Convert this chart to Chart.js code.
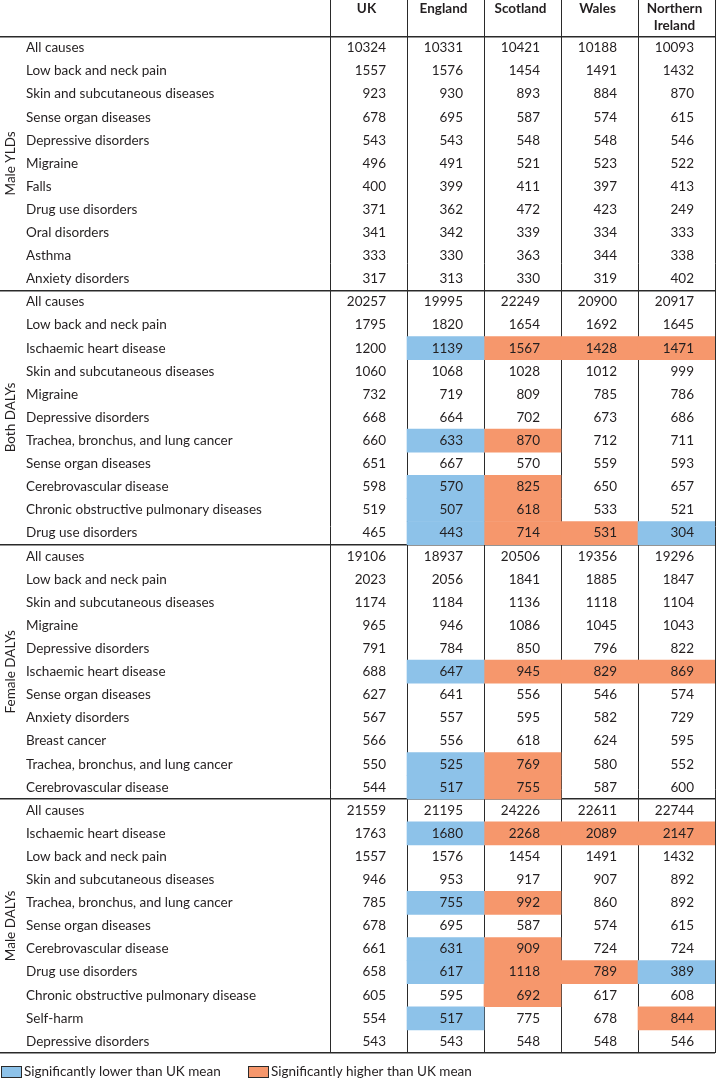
<!DOCTYPE html>
<html>
<head>
<meta charset="utf-8">
<script src="https://cdn.jsdelivr.net/npm/chart.js@4.4.1/dist/chart.umd.min.js"></script>
<style>
  body { margin: 0; background: #fff; }
  #caja { width: 716px; height: 1080px; position: relative; }
</style>
</head>
<body>
<div id="caja"><canvas id="tabla"></canvas></div>
<script>
// datos de la tabla

var SECTIONS = ["Male YLDs", "Both DALYs", "Female DALYs", "Male DALYs"];
var SECTION_ROWS = [11, 11, 11, 11];
var COUNTRIES = [["UK"], ["England"], ["Scotland"], ["Wales"], ["Northern", "Ireland"]];

var CAUSES = [
  "All causes", "Low back and neck pain", "Skin and subcutaneous diseases", "Sense organ diseases",
  "Depressive disorders", "Migraine", "Falls", "Drug use disorders", "Oral disorders", "Asthma",
  "Anxiety disorders",
  "All causes", "Low back and neck pain", "Ischaemic heart disease", "Skin and subcutaneous diseases",
  "Migraine", "Depressive disorders", "Trachea, bronchus, and lung cancer", "Sense organ diseases",
  "Cerebrovascular disease", "Chronic obstructive pulmonary diseases", "Drug use disorders",
  "All causes", "Low back and neck pain", "Skin and subcutaneous diseases", "Migraine",
  "Depressive disorders", "Ischaemic heart disease", "Sense organ diseases", "Anxiety disorders",
  "Breast cancer", "Trachea, bronchus, and lung cancer", "Cerebrovascular disease",
  "All causes", "Ischaemic heart disease", "Low back and neck pain", "Skin and subcutaneous diseases",
  "Trachea, bronchus, and lung cancer", "Sense organ diseases", "Cerebrovascular disease",
  "Drug use disorders", "Chronic obstructive pulmonary disease", "Self-harm", "Depressive disorders"
];

var UK = [10324, 1557, 923, 678, 543, 496, 400, 371, 341, 333, 317,
  20257, 1795, 1200, 1060, 732, 668, 660, 651, 598, 519, 465,
  19106, 2023, 1174, 965, 791, 688, 627, 567, 566, 550, 544,
  21559, 1763, 1557, 946, 785, 678, 661, 658, 605, 554, 543];
var ENGLAND = [10331, 1576, 930, 695, 543, 491, 399, 362, 342, 330, 313,
  19995, 1820, 1139, 1068, 719, 664, 633, 667, 570, 507, 443,
  18937, 2056, 1184, 946, 784, 647, 641, 557, 556, 525, 517,
  21195, 1680, 1576, 953, 755, 695, 631, 617, 595, 517, 543];
var SCOTLAND = [10421, 1454, 893, 587, 548, 521, 411, 472, 339, 363, 330,
  22249, 1654, 1567, 1028, 809, 702, 870, 570, 825, 618, 714,
  20506, 1841, 1136, 1086, 850, 945, 556, 595, 618, 769, 755,
  24226, 2268, 1454, 917, 992, 587, 909, 1118, 692, 775, 548];
var WALES = [10188, 1491, 884, 574, 548, 523, 397, 423, 334, 344, 319,
  20900, 1692, 1428, 1012, 785, 673, 712, 559, 650, 533, 531,
  19356, 1885, 1118, 1045, 796, 829, 546, 582, 624, 580, 587,
  22611, 2089, 1491, 907, 860, 574, 724, 789, 617, 678, 548];
var NIRELAND = [10093, 1432, 870, 615, 546, 522, 413, 249, 333, 338, 402,
  20917, 1645, 1471, 999, 786, 686, 711, 593, 657, 521, 304,
  19296, 1847, 1104, 1043, 822, 869, 574, 729, 595, 552, 600,
  22744, 2147, 1432, 892, 892, 615, 724, 389, 608, 844, 546];

// -1 = significativamente menor que la media UK, 1 = mayor, 0 = nada
var SIG_UK = [0, 0, 0, 0, 0, 0, 0, 0, 0, 0, 0,
  0, 0, 0, 0, 0, 0, 0, 0, 0, 0, 0,
  0, 0, 0, 0, 0, 0, 0, 0, 0, 0, 0,
  0, 0, 0, 0, 0, 0, 0, 0, 0, 0, 0];
var SIG_ENGLAND = [0, 0, 0, 0, 0, 0, 0, 0, 0, 0, 0,
  0, 0, -1, 0, 0, 0, -1, 0, -1, -1, -1,
  0, 0, 0, 0, 0, -1, 0, 0, 0, -1, -1,
  0, -1, 0, 0, -1, 0, -1, -1, 0, -1, 0];
var SIG_SCOTLAND = [0, 0, 0, 0, 0, 0, 0, 0, 0, 0, 0,
  0, 0, 1, 0, 0, 0, 1, 0, 1, 1, 1,
  0, 0, 0, 0, 0, 1, 0, 0, 0, 1, 1,
  0, 1, 0, 0, 1, 0, 1, 1, 1, 0, 0];
var SIG_WALES = [0, 0, 0, 0, 0, 0, 0, 0, 0, 0, 0,
  0, 0, 1, 0, 0, 0, 0, 0, 0, 0, 1,
  0, 0, 0, 0, 0, 1, 0, 0, 0, 0, 0,
  0, 1, 0, 0, 0, 0, 0, 1, 0, 0, 0];
var SIG_NIRELAND = [0, 0, 0, 0, 0, 0, 0, 0, 0, 0, 0,
  0, 0, 1, 0, 0, 0, 0, 0, 0, 0, -1,
  0, 0, 0, 0, 0, 1, 0, 0, 0, 0, 0,
  0, 1, 0, 0, 0, 0, 0, -1, 0, 1, 0];

var LEGEND_LOW = "Significantly lower than UK mean";
var LEGEND_HIGH = "Significantly higher than UK mean";

var VALUES = [UK, ENGLAND, SCOTLAND, WALES, NIRELAND];
var SIGS = [SIG_UK, SIG_ENGLAND, SIG_SCOTLAND, SIG_WALES, SIG_NIRELAND];

// estilo
var AZUL = "#8dc2e9";
var NARANJA = "#f6976c";
var TEXTO = "#231f20";
var LINEA = "#2a2a2a";
var FUENTE = "13.5px Lato";
var FUENTE_NEGRITA = "bold 13.5px Lato";
var LABEL_COLS = 4.286;   // ancho de la columna de causas, en columnas de datos
var HEADER_ROWS = 1.57;   // alto de la cabecera, en filas

// celdas coloreadas
function celdas(signo) {
  var out = [];
  SIGS.forEach(function (col, j) {
    col.forEach(function (s, i) {
      if (s === signo) out.push({ x: [j, j + 1], y: i });
    });
  });
  return out;
}

// limites de secciones
var cortes = [-0.5];
SECTION_ROWS.reduce(function (acc, n) {
  cortes.push(acc + n - 0.5);
  return acc + n;
}, 0);

var textoTabla = {
  id: "textoTabla",
  afterDraw: function (chart) {
    var ctx = chart.ctx;
    var x = chart.scales.x;
    var y = chart.scales.y;
    var area = chart.chartArea;

    ctx.save();
    ctx.fillStyle = TEXTO;
    ctx.textBaseline = "middle";

    // causas
    ctx.font = FUENTE;
    ctx.textAlign = "left";
    CAUSES.forEach(function (c, i) {
      ctx.fillText(c, area.left + 26, y.getPixelForValue(i));
    });

    // valores
    ctx.textAlign = "right";
    VALUES.forEach(function (col, j) {
      var derecha = x.getPixelForValue(j + 1) - 21;
      col.forEach(function (v, i) {
        ctx.fillText(String(v), derecha, y.getPixelForValue(i));
      });
    });

    // cabecera
    ctx.font = FUENTE_NEGRITA;
    ctx.textAlign = "center";
    COUNTRIES.forEach(function (lineas, j) {
      var cx = x.getPixelForValue(j + 0.5) - 2;
      lineas.forEach(function (t, k) {
        ctx.fillText(t, cx, area.top + 9 + k * 17);
      });
    });

    // secciones (texto girado)
    ctx.font = FUENTE;
    var inicio = 0;
    SECTIONS.forEach(function (s, k) {
      var medio = (y.getPixelForValue(inicio - 0.5) + y.getPixelForValue(inicio + SECTION_ROWS[k] - 0.5)) / 2;
      ctx.save();
      ctx.translate(area.left + 11, medio);
      ctx.rotate(-Math.PI / 2);
      ctx.fillText(s, 0, 0);
      ctx.restore();
      inicio += SECTION_ROWS[k];
    });

    // leyenda
    var ly = area.bottom + 19;
    var items = [[LEGEND_LOW, AZUL, area.left + 1], [LEGEND_HIGH, NARANJA, area.left + 248]];
    ctx.textAlign = "left";
    ctx.lineWidth = 1;
    ctx.strokeStyle = LINEA;
    items.forEach(function (it) {
      ctx.fillStyle = it[1];
      ctx.fillRect(it[2] + 0.5, ly - 5.5, 20, 11);
      ctx.strokeRect(it[2] + 0.5, ly - 5.5, 20, 11);
      ctx.fillStyle = TEXTO;
      ctx.fillText(it[0], it[2] + 23, ly);
    });

    ctx.restore();
  }
};

function cargaTabla() {
  var config = {
    type: "bar",
    data: {
      datasets: [
        { label: LEGEND_LOW, data: celdas(-1), backgroundColor: AZUL },
        { label: LEGEND_HIGH, data: celdas(1), backgroundColor: NARANJA }
      ]
    },
    options: {
      indexAxis: "y",
      responsive: true,
      maintainAspectRatio: false,
      animation: false,
      layout: { padding: { left: 0, right: 1, top: 0, bottom: 27 } },
      datasets: {
        bar: { grouped: false, categoryPercentage: 1, barPercentage: 1, borderWidth: 0 }
      },
      plugins: {
        legend: { display: false },
        tooltip: { enabled: false }
      },
      scales: {
        x: {
          type: "linear",
          min: -LABEL_COLS,
          max: COUNTRIES.length,
          offset: false,
          z: 1,
          border: { display: false },
          ticks: { display: false },
          grid: { color: LINEA, lineWidth: 1, drawTicks: false, offset: false },
          afterBuildTicks: function (scale) {
            scale.ticks = COUNTRIES.map(function (c, j) { return { value: j }; })
              .concat([{ value: COUNTRIES.length }]);
          }
        },
        y: {
          type: "linear",
          reverse: true,
          min: -0.5 - HEADER_ROWS,
          max: CAUSES.length - 0.5,
          offset: false,
          z: 1,
          border: { display: false },
          ticks: { display: false },
          grid: { color: LINEA, lineWidth: 1.4, drawTicks: false, offset: false },
          afterBuildTicks: function (scale) {
            scale.ticks = cortes.map(function (v) { return { value: v }; });
          }
        }
      }
    },
    plugins: [textoTabla]
  };

  new Chart(document.getElementById("tabla").getContext("2d"), config);
}

cargaTabla();
</script>
</body>
</html>
